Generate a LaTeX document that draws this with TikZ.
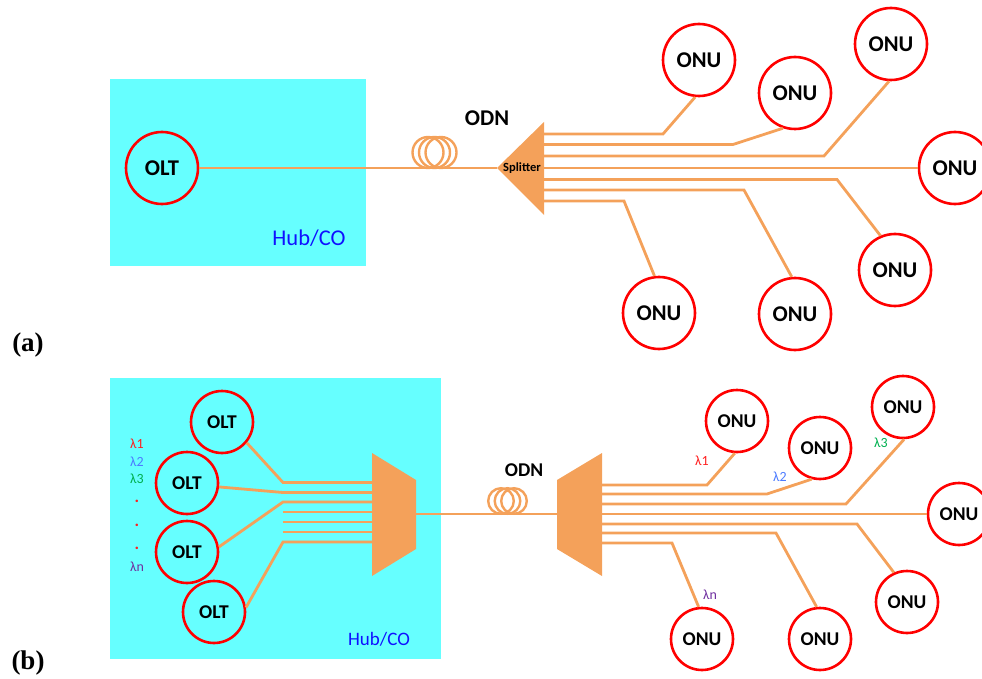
\documentclass[tikz,border=0pt]{standalone}
\usepackage{fontspec}
\setmainfont{Carlito}
\newfontfamily\serifb{Liberation Serif}
\definecolor{fib}{HTML}{F4A15A}
\definecolor{hubc}{HTML}{66FFFF}
\definecolor{hubt}{HTML}{1010FF}
\definecolor{lamr}{HTML}{FF2020}
\definecolor{lamb}{HTML}{4C7BFF}
\definecolor{lamg}{HTML}{00B050}
\definecolor{lamp}{HTML}{7030A0}
\tikzset{
 fiber/.style={draw=fib, line width=2.8pt, line join=miter},
 coilring/.style={draw=fib, line width=2.4pt},
 onuA/.style={circle, draw=red, line width=2.6pt, minimum size=72pt, inner sep=0pt, font=\bfseries\fontsize{22.5}{26}\selectfont},
 onuB/.style={circle, draw=red, line width=2.6pt, minimum size=62pt, inner sep=0pt, font=\bfseries\fontsize{19.5}{23}\selectfont},
 lam/.style={font=\fontsize{14}{16}\selectfont, inner sep=0pt},
 dotmark/.style={font=\bfseries\fontsize{17}{18}\selectfont, inner sep=0pt, text=lamr},
 panel/.style={font=\serifb\bfseries\fontsize{27}{30}\selectfont, inner sep=0pt},
}
\begin{document}
\begin{tikzpicture}[x=1pt,y=-1pt]
\useasboundingbox (0,0) rectangle (982,679);
% ---------------- (a) ----------------
\fill[hubc] (110,79) rectangle (366,266);
\node[onuA] (olta) at (162,168) {OLT};
\node[font=\fontsize{22.5}{26}\selectfont, text=hubt] (huba) at (309,238) {Hub/CO};
\coordinate (tipa) at (497,168);
\fill[fib] (tipa) -- (544,122) -- (544,215) -- cycle;
\node[font=\bfseries\fontsize{12.5}{14}\selectfont, inner sep=0pt] (splt) at (522,168) {Splitter};
\node[font=\bfseries\fontsize{22.5}{26}\selectfont] (odna) at (487,118) {ODN};
\draw[fiber] (olta) -- (tipa);
\draw[coilring] (428,152.5) circle[radius=15.5pt];
\draw[coilring] (434.5,152.5) circle[radius=15.5pt];
\draw[coilring] (441,152.5) circle[radius=15.5pt];
\node[onuA] (a1) at (699,60) {ONU};
\node[onuA] (a2) at (795,93) {ONU};
\node[onuA] (a3) at (891,44) {ONU};
\node[onuA] (a4) at (955,168) {ONU};
\node[onuA] (a5) at (895,270) {ONU};
\node[onuA] (a6) at (795,314) {ONU};
\node[onuA] (a7) at (659,313) {ONU};
\coordinate (sa1) at (544,134);
\coordinate (sa2) at (544,144.5);
\coordinate (sa3) at (544,156);
\coordinate (sa4) at (544,168);
\coordinate (sa5) at (544,179.5);
\coordinate (sa6) at (544,190);
\coordinate (sa7) at (544,201);
\draw[fiber] (sa1) -- (663,134) -- (a1.-96);
\draw[fiber] (sa2) -- (733,144.5) -- (a2.-109);
\draw[fiber] (sa3) -- (824,156) -- (a3.-93);
\draw[fiber] (sa4) -- (a4);
\draw[fiber] (sa5) -- (837,179.5) -- (a5.113);
\draw[fiber] (sa6) -- (744,190) -- (a6.95);
\draw[fiber] (sa7) -- (624,201) -- (a7.97);
\node[panel] (la) at (28,345) {(a)};
% ---------------- (b) ----------------
\fill[hubc] (110,378) rectangle (441,659);
\node[font=\fontsize{19}{22}\selectfont, text=hubt] (hubb) at (379,639) {Hub/CO};
\node[onuB] (t1) at (222,422) {OLT};
\node[onuB] (t2) at (187,483) {OLT};
\node[onuB] (t3) at (187,552) {OLT};
\node[onuB] (t4) at (214,612) {OLT};
\node[lam, text=lamr] (l1) at (137,444) {λ1};
\node[lam, text=lamb] (l2) at (137,462) {λ2};
\node[lam, text=lamg] (l3) at (137,479) {λ3};
\node[dotmark] (d1) at (137,501) {.};
\node[dotmark] (d2) at (137,525) {.};
\node[dotmark] (d3) at (137,548) {.};
\node[lam, text=lamp] (ln) at (137,567) {λn};
% mux
\coordinate (muxo) at (416,514);
\fill[fib] (372,453) -- (416,480) -- (416,549) -- (372,576) -- cycle;
\coordinate (mi1) at (372,482.5);
\coordinate (mi2) at (372,492.5);
\coordinate (mi3) at (372,502);
\coordinate (mi4) at (372,512);
\coordinate (mi5) at (372,522);
\coordinate (mi6) at (372,532);
\coordinate (mi7) at (372,542);
\draw[fiber] (t1.-40) -- (283,482.5) -- (mi1);
\draw[fiber] (t2.-7) -- (283,492.5) -- (mi2);
\draw[fiber] (t3.9) -- (283,502) -- (mi3);
\draw[fiber] (283,512) -- (mi4);
\draw[fiber] (283,522) -- (mi5);
\draw[fiber] (283,532) -- (mi6);
\draw[fiber] (t4.8) -- (283,542) -- (mi7);
% demux
\coordinate (dmi) at (557,514);
\fill[fib] (557,480) -- (602,453) -- (602,576) -- (557,549) -- cycle;
\draw[fiber] (muxo) -- (dmi);
\draw[coilring] (501,501) circle[radius=12.8pt];
\draw[coilring] (507.5,501) circle[radius=12.8pt];
\draw[coilring] (514,501) circle[radius=12.8pt];
\node[font=\bfseries\fontsize{19.5}{23}\selectfont] (odnb) at (524,470) {ODN};
\node[onuB] (b1) at (737,421) {ONU};
\node[onuB] (b2) at (820,448) {ONU};
\node[onuB] (b3) at (903,407) {ONU};
\node[onuB] (b4) at (959,514) {ONU};
\node[onuB] (b5) at (907,602) {ONU};
\node[onuB] (b6) at (820,639) {ONU};
\node[onuB] (b7) at (702,639) {ONU};
\coordinate (db1) at (602,485);
\coordinate (db2) at (602,494);
\coordinate (db3) at (602,504);
\coordinate (db4) at (602,514);
\coordinate (db5) at (602,524);
\coordinate (db6) at (602,533);
\coordinate (db7) at (602,543);
\draw[fiber] (db1) -- (707,485) -- (b1.-94);
\draw[fiber] (db2) -- (767,494) -- (b2.-105);
\draw[fiber] (db3) -- (846,504) -- (b3.-88);
\draw[fiber] (db4) -- (b4);
\draw[fiber] (db5) -- (857,524) -- (b5.114);
\draw[fiber] (db6) -- (776,533) -- (b6.96);
\draw[fiber] (db7) -- (672,543) -- (b7.96);
\node[lam, text=lamr] (r1) at (702,461) {λ1};
\node[lam, text=lamb] (r2) at (780,477) {λ2};
\node[lam, text=lamg] (r3) at (881,443) {λ3};
\node[lam, text=lamp] (rn) at (710,595) {λn};
\node[panel] (lb) at (28,663) {(b)};
\end{tikzpicture}
\end{document}
